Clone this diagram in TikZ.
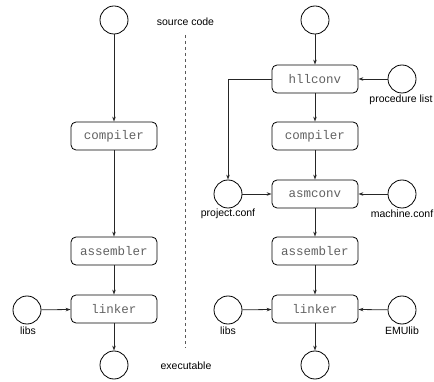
\documentclass[tikz,border=0pt]{standalone}
\usepackage{fontspec}
\setmainfont{Liberation Sans}
\newfontfamily\boxfont{Liberation Mono}
\usetikzlibrary{arrows.meta}
\tikzset{
  x=1pt,y=-1pt,
  circ/.style={circle,draw,line width=0.8pt,minimum size=28pt,inner sep=0pt},
  proc/.style={draw,line width=0.8pt,rounded corners=5pt,minimum width=86pt,minimum height=28pt,inner sep=0pt,font=\boxfont\fontsize{12.5}{14}\selectfont,text=black!62},
  lbl/.style={font=\fontsize{10.5}{12}\selectfont,inner sep=0pt},
  conn/.style={line width=0.8pt,draw=black!85,-{Stealth[length=5pt,width=3.5pt]}},
}
\begin{document}
\begin{tikzpicture}
\useasboundingbox (0,0) rectangle (434,382);
% left column
\node[circ] (ls) at (114,20) {};
\node[proc] (lc) at (114,136) {compiler};
\node[proc] (la) at (114,251) {assembler};
\node[proc] (ll) at (114,309) {linker};
\node[circ] (llibs) at (27,310) {};
\node[lbl] (llibsl) at (28,331) {libs};
\node[circ] (le) at (114,365) {};
\node[lbl] (src) at (185.5,22) {source code};
\node[lbl] (exe) at (186,366) {executable};
\coordinate (d1) at (185.5,35);
\coordinate (d2) at (185.5,348);
\draw[line width=0.9pt,draw=black!65,dash pattern=on 3pt off 3pt] (d1) -- (d2);
\draw[conn] (ls) -- (lc);
\draw[conn] (lc) -- (la);
\draw[conn] (la) -- (ll);
\draw[conn] (ll) -- (le);
\draw[conn] (llibs) -- (ll);
% right column
\node[circ] (rs) at (315,20) {};
\node[proc] (rh) at (315,79) {hllconv};
\node[circ] (rp) at (402,79) {};
\node[lbl] (rpl) at (401,100) {procedure list};
\node[proc] (rc) at (315,136) {compiler};
\node[proc] (rac) at (315,194) {asmconv};
\node[circ] (rpc) at (228,194) {};
\node[lbl] (rpcl) at (228,214) {project.conf};
\node[circ] (rmc) at (402,194) {};
\node[lbl] (rmcl) at (402,214) {machine.conf};
\node[proc] (ra) at (315,251) {assembler};
\node[proc] (rl) at (315,309) {linker};
\node[circ] (rlibs) at (228,310) {};
\node[lbl] (rlibsl) at (228,331) {libs};
\node[circ] (remu) at (402,310) {};
\node[lbl] (remul) at (402,331) {EMUlib};
\node[circ] (re) at (315,365) {};
\draw[conn] (rs) -- (rh);
\draw[conn] (rp) -- (rh);
\draw[conn] (rh) -- (rc);
\draw[conn] (rh.west) -| (rpc.north);
\draw[conn] (rc) -- (rac);
\draw[conn] (rpc) -- (rac);
\draw[conn] (rmc) -- (rac);
\draw[conn] (rac) -- (ra);
\draw[conn] (ra) -- (rl);
\draw[conn] (rlibs) -- (rl);
\draw[conn] (remu) -- (rl);
\draw[conn] (rl) -- (re);
\end{tikzpicture}
\end{document}
